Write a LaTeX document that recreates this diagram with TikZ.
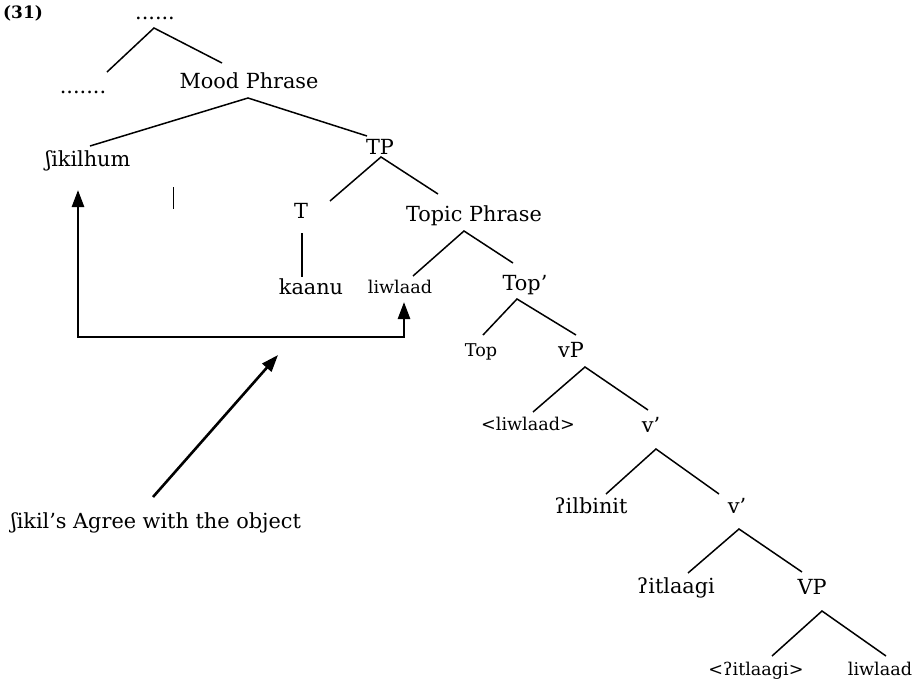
\documentclass[tikz,border=0pt]{standalone}
\usepackage{fontspec}
\setmainfont{DejaVu Serif}
\usetikzlibrary{arrows.meta}
\begin{document}
\begin{tikzpicture}[x=1pt,y=-1pt,
  lbl/.style={font=\fontsize{20.8}{23}\selectfont, inner sep=0pt, anchor=base},
  sm/.style={font=\fontsize{17.6}{20}\selectfont, inner sep=0pt, anchor=base},
  br/.style={line width=1.5pt},
  agr/.style={line width=2.6pt},
  tip/.style={-{Triangle[length=17pt,width=12pt]}}]
\useasboundingbox (0,0) rectangle (918,683);

% nodes (anchored at baseline)
\node[font=\fontsize{17}{20}\selectfont\bfseries, inner sep=0pt, anchor=base] (num) at (23,18) {(31)};
\node[lbl] (top)   at (155,19) {......};
\node[lbl] (dotsL) at (83,93)  {.......};
\node[lbl] (mood)  at (249,88) {Mood Phrase};
\node[lbl] (shik)  at (88,166) {ʃikilhum};
\node[lbl] (tp)    at (380,154) {TP};
\node[lbl] (t)     at (301,218) {T};
\node[lbl] (topic) at (474,221) {Topic Phrase};
\node[lbl] (kaanu) at (311,294) {kaanu};
\node[sm]  (liwA)  at (400,293) {liwlaad};
\node[lbl] (topbar) at (525,290) {Top’};
\node[sm]  (tophd) at (481,356) {Top};
\node[lbl] (vp)    at (571,357) {vP};
\node[sm]  (liwB)  at (528,430) {<liwlaad>};
\node[lbl] (vbarA) at (651,432) {v’};
\node[lbl] (ilb)   at (591,513) {ʔilbinit};
\node[lbl] (vbarB) at (737,513) {v’};
\node[lbl] (itl)   at (676,593) {ʔitlaagi};
\node[lbl] (VP)    at (812,594) {VP};
\node[sm]  (itlB)  at (756,675) {<ʔitlaagi>};
\node[sm]  (liwC)  at (880,675) {liwlaad};
\node[lbl] (agree) at (156,528) {ʃikil’s Agree with the object};

% branches
\draw[br] ([shift={(24,-21)}]dotsL.base) -- ([shift={(-1,9)}]top.base) -- ([shift={(-27,-25)}]mood.base);
\draw[br] ([shift={(2,-20)}]shik.base) -- ([shift={(-1,10)}]mood.base) -- ([shift={(-13,-18)}]tp.base);
\draw[br] ([shift={(29,-17)}]t.base) -- ([shift={(1,3)}]tp.base) -- ([shift={(-36,-27)}]topic.base);
\draw[br] ([shift={(1,15)}]t.base) -- ([shift={(-9,-17)}]kaanu.base);
\draw[br] ([shift={(13,-17)}]liwA.base) -- ([shift={(-10,10)}]topic.base) -- ([shift={(-12,-27)}]topbar.base);
\draw[br] ([shift={(2,-21)}]tophd.base) -- ([shift={(-8,9)}]topbar.base) -- ([shift={(5,-22)}]vp.base);
\draw[br] ([shift={(5,-18)}]liwB.base) -- ([shift={(14,10)}]vp.base) -- ([shift={(-3,-22)}]vbarA.base);
\draw[br] ([shift={(15,-19)}]ilb.base) -- ([shift={(5,17)}]vbarA.base) -- ([shift={(-18,-19)}]vbarB.base);
\draw[br] ([shift={(12,-20)}]itl.base) -- ([shift={(2,16)}]vbarB.base) -- ([shift={(-10,-22)}]VP.base);
\draw[br] ([shift={(16,-19)}]itlB.base) -- ([shift={(10,17)}]VP.base) -- ([shift={(6,-19)}]liwC.base);

% stray tick
\coordinate (tickA) at (173,187);
\coordinate (tickB) at (173,209);
\draw[line width=1pt] (tickA) -- (tickB);

% agree arrows
\draw[agr,{Triangle[length=17pt,width=12pt]}-{Triangle[length=17pt,width=12pt]}]
  ([shift={(-10,24)}]shik.base) -- ++(0,147) -| ([shift={(4,9)}]liwA.base);
\coordinate (agreeTip) at (278,355);
\draw[agr,tip] ([shift={(-3,-31)}]agree.base) -- (agreeTip);
\end{tikzpicture}
\end{document}
